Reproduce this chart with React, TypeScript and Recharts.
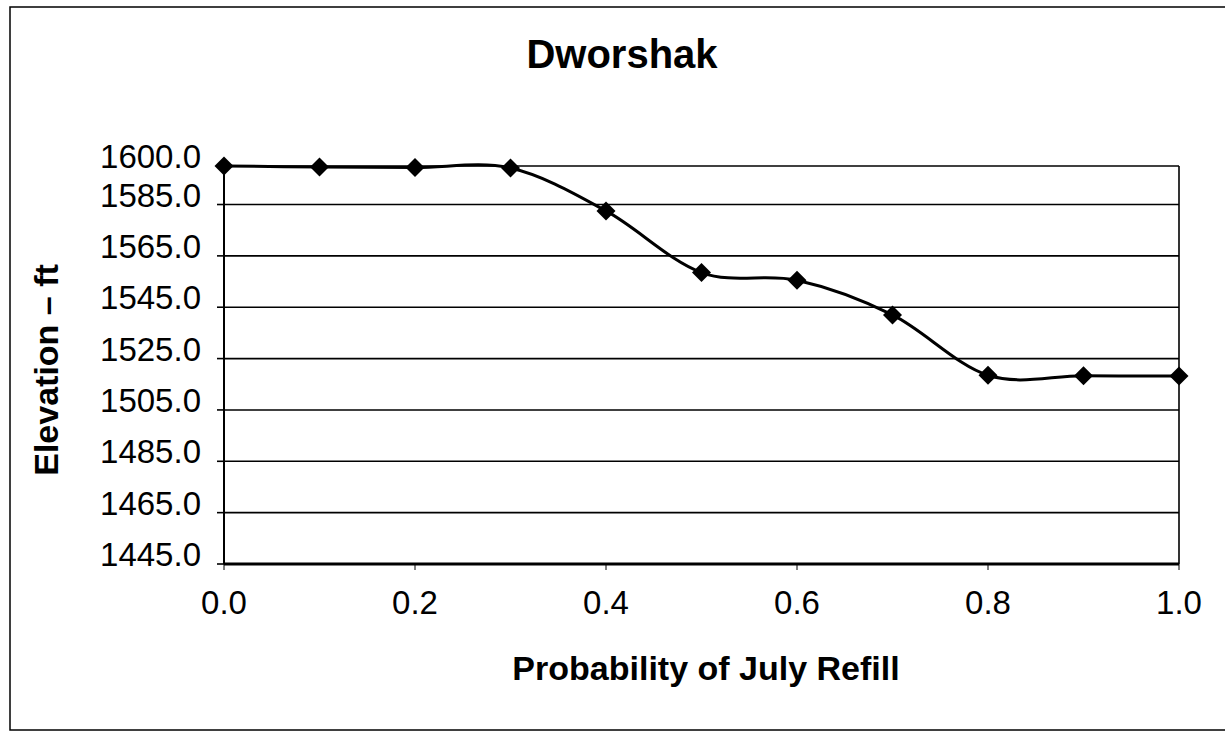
import { LineChart, Line, XAxis, YAxis, CartesianGrid, ReferenceLine } from 'recharts';

const probability = [0, 0.1, 0.2, 0.3, 0.4, 0.5, 0.6, 0.7, 0.8, 0.9, 1.0];
const elevation = [1600, 1599.6, 1599.4, 1599.2, 1582.5, 1558.5, 1555.5, 1542, 1518.5, 1518.3, 1518.2];
const xTicks = [0, 0.2, 0.4, 0.6, 0.8, 1.0];
const yTicks = [1445, 1465, 1485, 1505, 1525, 1545, 1565, 1585, 1600];

const data = probability.map((p, i) => ({ p, elev: elevation[i] }));

const font = '"Liberation Sans", Arial, sans-serif';

// Excel-style smoothed line (Catmull-Rom through the points)
function smoothCurve(context: any) {
  let pts: [number, number][] = [];
  return {
    areaStart() {},
    areaEnd() {},
    lineStart() {
      pts = [];
    },
    lineEnd() {
      const n = pts.length;
      if (!n) return;
      context.moveTo(pts[0][0], pts[0][1]);
      for (let i = 0; i < n - 1; i++) {
        const p0 = pts[Math.max(i - 1, 0)];
        const p1 = pts[i];
        const p2 = pts[i + 1];
        const p3 = pts[Math.min(i + 2, n - 1)];
        context.bezierCurveTo(
          p1[0] + (p2[0] - p0[0]) / 6, p1[1] + (p2[1] - p0[1]) / 6,
          p2[0] - (p3[0] - p1[0]) / 6, p2[1] - (p3[1] - p1[1]) / 6,
          p2[0], p2[1],
        );
      }
    },
    point(x: number, y: number) {
      pts.push([+x, +y]);
    },
  };
}

const Diamond = (props: any) => {
  const { cx, cy } = props;
  if (cx == null || cy == null) return null;
  const r = 9.5;
  return (
    <polygon
      points={`${cx},${cy - r} ${cx + r},${cy} ${cx},${cy + r} ${cx - r},${cy}`}
      fill="#000"
    />
  );
};

const YTick = ({ x, y, payload }: any) => (
  <text x={x} y={y} dy={2} textAnchor="end" fontSize={33} fontFamily={font} fill="#000">
    {Number(payload.value).toFixed(1)}
  </text>
);

const XTick = ({ x, y, payload }: any) => (
  <text x={x} y={y} dy={40} textAnchor="middle" fontSize={33} fontFamily={font} fill="#000">
    {Number(payload.value).toFixed(1)}
  </text>
);

export default function App() {
  return (
    <div style={{ position: 'absolute', left: 0, top: 0, width: 1225, height: 736, background: '#fff' }}>
      <LineChart
        width={1225}
        height={736}
        data={data}
        margin={{ top: 166, right: 46, left: 24, bottom: 112 }}
      >
        <CartesianGrid vertical={false} stroke="#000" strokeWidth={1.6} />
        <XAxis
          dataKey="p"
          type="number"
          domain={[0, 1]}
          ticks={xTicks}
          height={60}
          tick={<XTick />}
          tickSize={6}
          tickMargin={4}
          axisLine={{ stroke: '#000', strokeWidth: 3 }}
          tickLine={{ stroke: '#000', strokeWidth: 1 }}
        />
        <YAxis
          type="number"
          domain={[1445, 1600]}
          ticks={yTicks}
          width={200}
          interval={0}
          tick={<YTick />}
          tickSize={7}
          tickMargin={16}
          axisLine={{ stroke: '#000', strokeWidth: 2 }}
          tickLine={{ stroke: '#000', strokeWidth: 1.6 }}
        />
        <ReferenceLine x={1} stroke="#000" strokeWidth={1.6} />
        <Line
          dataKey="elev"
          type={smoothCurve as any}
          stroke="#000"
          strokeWidth={3}
          dot={<Diamond />}
          activeDot={false}
          isAnimationActive={false}
        />
      </LineChart>
      <svg
        width={1225}
        height={736}
        style={{ position: 'absolute', left: 0, top: 0, pointerEvents: 'none' }}
      >
        <rect x={10} y={7} width={1230} height={723} fill="none" stroke="#000" strokeWidth={1.5} />
        <text x={622} y={68} textAnchor="middle" fontSize={40} fontWeight="bold" fontFamily={font} fill="#000">
          Dworshak
        </text>
        <text x={706} y={680} textAnchor="middle" fontSize={34} fontWeight="bold" fontFamily={font} fill="#000">
          Probability of July Refill
        </text>
        <text
          x={58}
          y={370}
          transform="rotate(-90, 58, 370)"
          textAnchor="middle"
          fontSize={34}
          fontWeight="bold"
          fontFamily={font}
          fill="#000"
        >
          Elevation – ft
        </text>
      </svg>
    </div>
  );
}
